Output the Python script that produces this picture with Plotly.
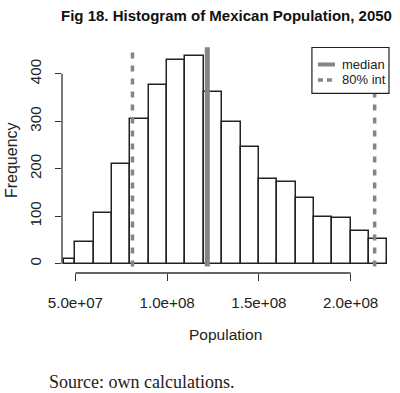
import plotly.graph_objects as go

# ---- data ----
bin_left = [44.0e6, 50e6, 60e6, 70e6, 80e6, 90e6, 100e6, 110e6, 120e6, 130e6,
            140e6, 150e6, 160e6, 170e6, 180e6, 190e6, 200e6, 210e6]
bin_right = [50e6, 60e6, 70e6, 80e6, 90e6, 100e6, 110e6, 120e6, 130e6, 140e6,
             150e6, 160e6, 170e6, 180e6, 190e6, 200e6, 210e6, 220e6]
counts = [10, 45, 107, 209, 305, 376, 430, 438, 362, 298,
          246, 178, 171, 138, 98, 97, 69, 51]
median_val = 121.9e6
int80 = [81.1e6, 213.1e6]
x_tickvals = [5.0e7, 1.0e8, 1.5e8, 2.0e8]
x_ticktext = ["5.0e+07", "1.0e+08", "1.5e+08", "2.0e+08"]
y_tickvals = [0, 100, 200, 300, 400]
y_ticktext = ["0", "100", "200", "300", "400"]

# ---- layout geometry (pixels) ----
W, H = 400, 393
L, R, T, B = 62.3, 390.0, 46.5, 272.7


def px(x):
    return (x - L) / (R - L)


def py(y):
    return (B - y) / (B - T)


centers = [(a + b) / 2 for a, b in zip(bin_left, bin_right)]
widths = [b - a for a, b in zip(bin_left, bin_right)]

SANS = "Liberation Sans, Arial, Helvetica, sans-serif"
GRAY = "#858585"

fig = go.Figure()
fig.add_trace(go.Bar(
    x=centers, y=counts, width=widths,
    marker=dict(color="white", line=dict(color="#222222", width=1.5)),
    showlegend=False, hoverinfo="skip",
))

shapes = []
# vertical reference lines
shapes.append(dict(type="line", xref="x", yref="y", x0=median_val, x1=median_val,
                   y0=-6, y1=456, line=dict(color=GRAY, width=5)))
for v in int80:
    shapes.append(dict(type="line", xref="x", yref="y", x0=v, x1=v,
                       y0=-6, y1=456, line=dict(color=GRAY, width=3.5, dash="6px,7px")))
# R-style axis lines
shapes.append(dict(type="line", xref="x", yref="paper", x0=x_tickvals[0], x1=x_tickvals[-1],
                   y0=0, y1=0, line=dict(color="#333333", width=1.3)))
shapes.append(dict(type="line", xref="paper", yref="y", x0=0, x1=0,
                   y0=y_tickvals[0], y1=y_tickvals[-1], line=dict(color="#333333", width=1.3)))
# legend box
shapes.append(dict(type="rect", xref="paper", yref="paper", x0=px(312), x1=px(389),
                   y0=py(93), y1=py(47), line=dict(color="#222222", width=1.2),
                   fillcolor="white"))
shapes.append(dict(type="line", xref="paper", yref="paper", x0=px(318), x1=px(335),
                   y0=py(64), y1=py(64), line=dict(color=GRAY, width=4)))
shapes.append(dict(type="line", xref="paper", yref="paper", x0=px(318), x1=px(335),
                   y0=py(79.5), y1=py(79.5), line=dict(color=GRAY, width=3.5, dash="5px,4px")))

annotations = [
    dict(text="<b>Fig 18. Histogram of Mexican Population, 2050</b>", x=px(227), y=py(15),
         xref="paper", yref="paper", showarrow=False, xanchor="center", yanchor="middle",
         font=dict(family=SANS, size=15, color="#111111")),
    dict(text="Frequency", x=px(12), y=py(160), xref="paper", yref="paper", showarrow=False,
         textangle=-90, xanchor="center", yanchor="middle",
         font=dict(family=SANS, size=16, color="#222222")),
    dict(text="Population", x=px(226), y=py(334), xref="paper", yref="paper", showarrow=False,
         xanchor="center", yanchor="middle", font=dict(family=SANS, size=15.5, color="#222222")),
    dict(text="median", x=px(340), y=py(64), xref="paper", yref="paper", showarrow=False,
         xanchor="left", yanchor="middle", font=dict(family=SANS, size=13, color="#222222")),
    dict(text="80% int", x=px(340), y=py(79.5), xref="paper", yref="paper", showarrow=False,
         xanchor="left", yanchor="middle", font=dict(family=SANS, size=13, color="#222222")),
    dict(text="Source: own calculations.", x=px(47), y=py(381.5), xref="paper", yref="paper",
         showarrow=False, xanchor="left", yanchor="middle",
         font=dict(family="Liberation Serif, Times New Roman, serif", size=18, color="#222222")),
]

fig.update_layout(
    width=W, height=H, autosize=False,
    margin=dict(l=L, r=W - R, t=T, b=H - B, pad=0),
    paper_bgcolor="white", plot_bgcolor="white",
    bargap=0, showlegend=False,
    shapes=shapes, annotations=annotations,
    xaxis=dict(range=[42.7e6, 221.47e6], showgrid=False, zeroline=False, showline=False,
               tickvals=x_tickvals, ticktext=x_ticktext, ticks="outside", ticklen=7,
               tickwidth=1.3, tickcolor="#333333", ticklabelstandoff=9,
               tickfont=dict(family=SANS, size=15.2, color="#222222")),
    yaxis=dict(range=[-19.8, 456.4], showgrid=False, zeroline=False, showline=False,
               tickvals=y_tickvals, ticktext=y_ticktext, ticks="outside", ticklen=6,
               tickwidth=1.3, tickcolor="#333333", tickangle=-90, ticklabelstandoff=8,
               tickfont=dict(family=SANS, size=15.2, color="#222222")),
)

fig.write_html(
    "out.html",
    include_plotlyjs=True,
    config={"displayModeBar": False, "responsive": False},
    post_script="document.documentElement.style.margin='0';document.body.style.margin='0';"
                "document.body.style.padding='0';document.body.style.overflow='hidden';",
)
